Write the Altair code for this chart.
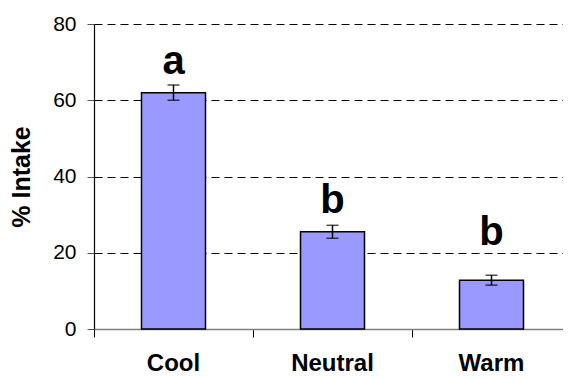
import altair as alt
import pandas as pd

categories = ["Cool", "Neutral", "Warm"]
means = [62.0, 25.5, 12.8]
errors = [2.0, 1.7, 1.3]
letters = ["a", "b", "b"]
letter_y = [67.0, 30.4, 22.0]
y_ticks = [0, 20, 40, 60, 80]

df = pd.DataFrame({
    "cat": categories,
    "mean": means,
    "lo": [m - e for m, e in zip(means, errors)],
    "hi": [m + e for m, e in zip(means, errors)],
    "letter": letters,
    "ly": letter_y,
})

FONT = "Liberation Sans"

x_scale = alt.Scale(paddingInner=0, paddingOuter=0, range=[0, 477])
x = alt.X("cat:N", sort=categories, title=None, scale=x_scale,
          axis=alt.Axis(labelAngle=0, labelFont=FONT, labelFontSize=24,
                        labelFontWeight="bold", labelColor="black",
                        labelPadding=14, tickSize=8, tickColor="black",
                        tickWidth=1, bandPosition=0, domainColor="#808080",
                        domainWidth=1.5, grid=False))
y_scale = alt.Scale(domain=[0, 80], nice=False)
y_axis = alt.Axis(values=y_ticks, title="% Intake", titleFont=FONT,
                  titleFontSize=25, titleFontWeight="bold", titleColor="black",
                  titlePadding=18, labelFont=FONT, labelFontSize=21,
                  labelColor="black", labelPadding=11, tickSize=7,
                  tickColor="#555555", tickWidth=1, domainColor="black",
                  domainWidth=1.2, grid=True, gridColor="black",
                  gridDash=[8, 5], gridWidth=1,
                  gridOpacity={"condition": {"test": "datum.value === 0", "value": 0}, "value": 1})

base = alt.Chart(df)
xs = alt.X("cat:N", sort=categories)

bars = base.mark_bar(size=64, color="#9999FF", stroke="black", strokeWidth=1.5).encode(
    x=x, y=alt.Y("mean:Q", scale=y_scale, axis=y_axis))

rules = base.mark_rule(color="black", strokeWidth=1.5).encode(x=xs, y="lo:Q", y2="hi:Q")
cap_lo = base.mark_tick(color="black", size=12, thickness=1.5, orient="horizontal").encode(x=xs, y="lo:Q")
cap_hi = base.mark_tick(color="black", size=12, thickness=1.5, orient="horizontal").encode(x=xs, y="hi:Q")

text = base.mark_text(font=FONT, fontSize=40, fontWeight="bold", baseline="alphabetic",
                      color="black").encode(x=xs, y="ly:Q", text="letter:N")

chart = alt.layer(bars, rules, cap_lo, cap_hi, text).properties(
    width=469, height=305,
    autosize=alt.AutoSizeParams(type="none"),
    padding={"left": 86, "top": 16, "right": 0, "bottom": 47},
).configure_view(stroke=None)

chart.save("out.html", embed_options={"renderer": "svg", "actions": False})
